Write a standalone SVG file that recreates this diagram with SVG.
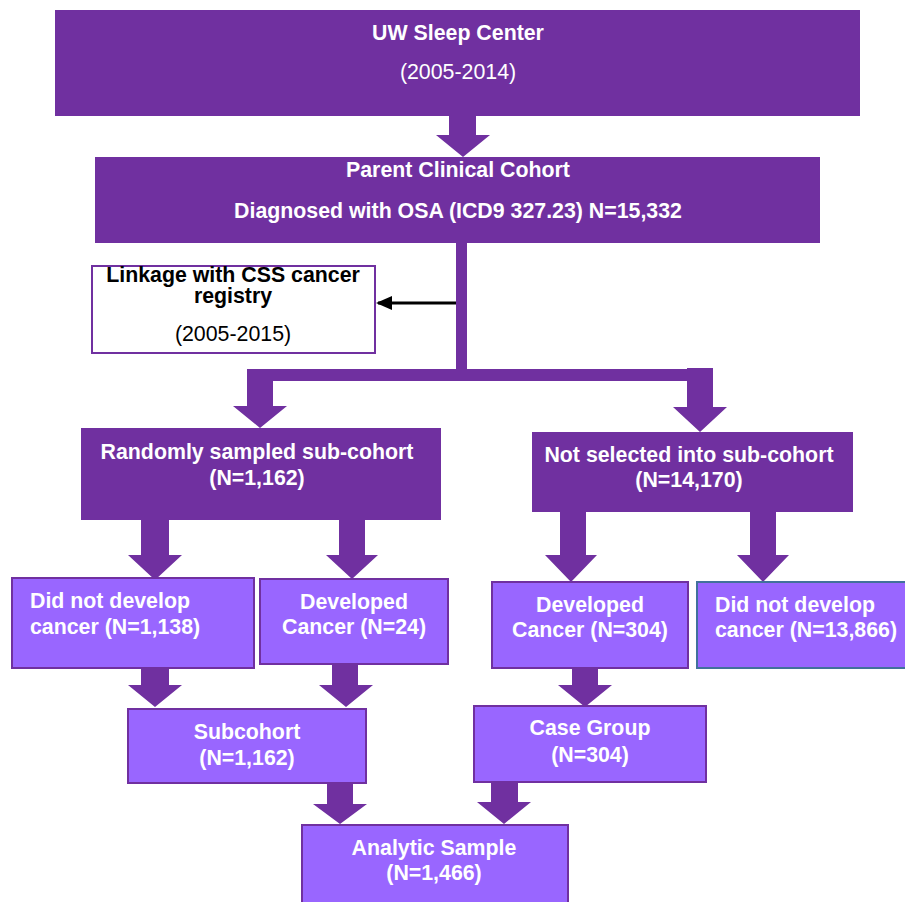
<svg xmlns="http://www.w3.org/2000/svg" width="905" height="902" viewBox="0 0 905 902">
<style>
.dark{fill:#7030A0;}
.light{fill:#9966FF;stroke:#7030A0;stroke-width:2;}
.t{font-family:"Liberation Sans",Arial,sans-serif;font-size:21.33px;fill:#fff;}
.b{font-weight:bold;}
.m{text-anchor:middle;}
.k{fill:#000;}
.conn{fill:#7030A0;}
</style>
<rect width="905" height="902" fill="#fff"/>

<g id="connectors">
<polygon class="conn" points="449,116 476,116 476,135 490,135 463,157 436,135 449,135"/>
<rect class="conn" x="456" y="243" width="11" height="130"/>
<rect class="conn" x="247" y="369" width="466" height="12"/>
<polygon class="conn" points="247,369 273,369 273,406 287,406 260,428 233,406 247,406"/>
<polygon class="conn" points="687,368 713,368 713,407 727,407 700,432 673,407 687,407"/>
<line x1="456" y1="303" x2="378" y2="303" stroke="#000" stroke-width="3"/>
<polygon points="376,303 392,296 392,310" fill="#000"/>
<polygon class="conn" points="141,520 169,520 169,555 182,555 155,580 128,555 141,555"/>
<polygon class="conn" points="339,520 365,520 365,555 378,555 352,579 326,555 339,555"/>
<polygon class="conn" points="560,512 586,512 586,555 597,555 571,582 545,555 560,555"/>
<polygon class="conn" points="750,512 776,512 776,555 789,555 763,582 737,555 750,555"/>
<polygon class="conn" points="141,668 169,668 169,685 182,685 155,707 128,685 141,685"/>
<polygon class="conn" points="332,664 358,664 358,685 373,685 346,707 319,685 332,685"/>
<polygon class="conn" points="572,668 598,668 598,685 612,685 585,707 558,685 572,685"/>
<polygon class="conn" points="327,783 353,783 353,804 367,804 340,824 313,804 327,804"/>
<polygon class="conn" points="491,782 518,782 518,802 531,802 504,824 477,802 491,802"/>
</g>

<g id="uw-sleep-center">
<rect class="dark" x="55" y="10" width="805" height="106"/>
<text class="t b m" x="458" y="40">UW Sleep Center</text>
<text class="t m" x="458" y="79">(2005-2014)</text>
</g>

<g id="parent-cohort">
<rect class="dark" x="95" y="157" width="725" height="86"/>
<text class="t b m" x="458" y="177">Parent Clinical Cohort</text>
<text class="t b m" x="458" y="218">Diagnosed with OSA (ICD9 327.23) N=15,332</text>
</g>

<g id="linkage">
<rect x="92" y="266" width="283" height="87" fill="#fff" stroke="#7030A0" stroke-width="2"/>
<text class="t b m k" x="233" y="282">Linkage with CSS cancer</text>
<text class="t b m k" x="233" y="303">registry</text>
<text class="t m k" x="233" y="341">(2005-2015)</text>
</g>

<g id="random-subcohort">
<rect class="dark" x="81" y="428" width="360" height="92"/>
<text class="t b m" x="257" y="459">Randomly sampled sub-cohort</text>
<text class="t b m" x="257" y="485">(N=1,162)</text>
</g>

<g id="not-selected">
<rect class="dark" x="532" y="432" width="321" height="80"/>
<text class="t b m" x="689" y="462">Not selected into sub-cohort</text>
<text class="t b m" x="689" y="487">(N=14,170)</text>
</g>

<g id="no-cancer-sub">
<rect class="light" x="12" y="578" width="242" height="90"/>
<text class="t b" x="30" y="608">Did not develop</text>
<text class="t b" x="30" y="634">cancer (N=1,138)</text>
</g>

<g id="cancer-sub">
<rect class="light" x="260" y="579" width="188" height="85"/>
<text class="t b m" x="354" y="609">Developed</text>
<text class="t b m" x="354" y="634">Cancer (N=24)</text>
</g>

<g id="cancer-nonsub">
<rect class="light" x="492" y="582" width="196" height="86"/>
<text class="t b m" x="590" y="612">Developed</text>
<text class="t b m" x="590" y="637">Cancer (N=304)</text>
</g>

<g id="no-cancer-nonsub">
<rect x="697" y="582" width="210" height="86" fill="#9966FF" stroke="#41719C" stroke-width="2"/>
<text class="t b" x="715" y="612">Did not develop</text>
<text class="t b" x="715" y="637">cancer (N=13,866)</text>
</g>

<g id="subcohort">
<rect class="light" x="128" y="709" width="238" height="74"/>
<text class="t b m" x="247" y="739">Subcohort</text>
<text class="t b m" x="247" y="765">(N=1,162)</text>
</g>

<g id="case-group">
<rect class="light" x="474" y="706" width="232" height="76"/>
<text class="t b m" x="590" y="735">Case Group</text>
<text class="t b m" x="590" y="762">(N=304)</text>
</g>

<g id="analytic-sample">
<rect class="light" x="302" y="825" width="266" height="90"/>
<text class="t b m" x="434" y="855">Analytic Sample</text>
<text class="t b m" x="434" y="880">(N=1,466)</text>
</g>
</svg>
